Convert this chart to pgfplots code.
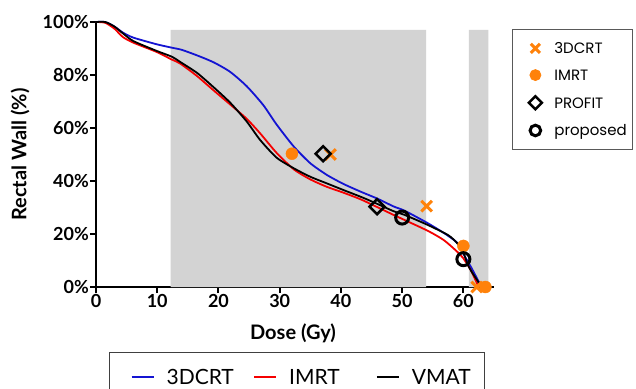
\documentclass[border=0pt]{standalone}
\usepackage{fontspec}
\setmainfont{Lato}
\newfontfamily\poppins{Poppins}
\usepackage{pgfplots}
\pgfplotsset{compat=1.18}
\definecolor{orng}{RGB}{255,130,10}
\definecolor{bl}{RGB}{20,20,210}
\definecolor{rd}{RGB}{245,0,0}
\definecolor{shade}{RGB}{211,211,211}
\begin{document}
\begin{tikzpicture}
\begin{axis}[
  at={(96bp,102bp)}, anchor=south west,
  scale only axis, width=398bp, height=265bp,
  xmin=0, xmax=65, ymin=0, ymax=100,
  axis x line*=bottom, axis y line*=left,
  axis line style={line width=2.2bp, black},
  xtick={0,10,20,30,40,50,60}, ytick={0,20,40,60,80,100},
  xticklabels={0,10,20,30,40,50,60},
  yticklabels={0\%,20\%,40\%,60\%,80\%,100\%},
  tick align=outside, major tick length=6bp,
  tick style={line width=2bp, black},
  ticklabel style={font=\fontsize{18bp}{20bp}\selectfont\bfseries, inner sep=1bp},
  xlabel={Dose (Gy)}, ylabel={Rectal Wall (\%)},
  label style={font=\fontsize{20bp}{22bp}\selectfont\bfseries},
  xlabel style={at={(axis description cs:0.495,-0.174)}, anchor=center},
  ylabel style={at={(axis description cs:-0.191,0.5)}, anchor=center},
  clip=false,
  legend columns=3, legend cell align=left,
  legend style={at={(0.0334,-0.244)}, anchor=north west, draw=black!75, line width=0.8bp,
    inner xsep=11bp, inner ysep=17.5bp, font=\fontsize{21bp}{23bp}\selectfont,
    nodes={inner sep=0pt, text height=15bp, text depth=0bp, text width=62bp, align=left},
    /tikz/every odd column/.style={column sep=12bp},
    /tikz/every even column/.style={column sep=14.7bp}},
  legend image code/.code={\path[draw=none, fill=none] (-11bp,-7bp) rectangle (22bp,7bp); \draw[#1, line width=1.8bp] (0bp,0bp) -- (22bp,0bp);},
]
\addplot[fill=shade, draw=none, forget plot] coordinates {(12.2,0.45) (12.2,97) (53.9,97) (53.9,0.45)} \closedcycle;
\addplot[fill=shade, draw=none, forget plot] coordinates {(60.9,0.45) (60.9,97) (64.1,97) (64.1,0.45)} \closedcycle;

\addplot[bl, line width=1.8bp, smooth, tension=0.4] coordinates {
(0,100) (1.5,100) (3,98.3) (4.4,96) (6.1,94.1) (9.9,91.6) (12.4,90.3) (14,89.5) (16.5,87.4)
(19.2,84.8) (21.9,81.2) (24.6,75.8) (27.3,68.7) (29.5,61.3) (32.3,53) (35,46.7) (37.7,42.3)
(40.4,38.9) (43.2,36) (46,33.3) (48.6,30.4) (50.4,28.8) (54.1,24.2) (56.8,20.4) (58.6,17.5)
(59.4,15.5) (60.2,11.7) (61.3,7.3) (62.6,1.6) (63,0)};
\addlegendentry{3DCRT}
\addplot[rd, line width=1.8bp, smooth, tension=0.4] coordinates {
(0,100) (1.5,99.7) (3,97.5) (4.4,94.3) (6.1,92.2) (9.9,88.7) (12.4,85.8) (13.7,84.4) (16.5,79.6)
(19.2,74.2) (21.9,68.9) (24.6,63.5) (26.8,58) (29.5,50.6) (32.3,44.4) (35,40.6) (37.7,37.8)
(40.4,35.6) (43.5,32.8) (48.6,27.2) (54.1,21.3) (56.8,17.7) (59,13.3) (60,10.8) (61.2,6.4)
(62,2.5) (62.5,0)};
\addlegendentry{IMRT}
\addplot[black, line width=1.8bp, smooth, tension=0.4] coordinates {
(0,100) (1.5,100) (3,98.3) (4.4,95.7) (6.1,92.8) (9.9,89.1) (12.4,86.9) (13.7,85) (16.5,80.8)
(19.2,75.4) (21.9,69.6) (24.6,62.5) (26.8,55.5) (29.5,48.8) (32.3,44.8) (35,41.6) (37.7,39.1)
(40.4,36.6) (43.5,33.8) (46,31.3) (48.6,28.6) (50.4,27.2) (54.1,23.5) (57.5,19.6) (59,16.5)
(60,13) (60.7,8.5) (61.5,5.2) (62.3,2.4) (62.9,0)};
\addlegendentry{VMAT}

\addplot[only marks, mark=x, mark size=7.5bp, mark options={draw=orng, line width=3bp}, forget plot]
  coordinates {(38.3,50) (54,30.5) (62.2,0)};
\addplot[only marks, mark=*, mark size=6bp, mark options={fill=orng, draw=orng}, forget plot]
  coordinates {(32,50.3) (60,15.5) (63.6,0)};
\addplot[only marks, mark=square, mark size=5.3bp, mark options={rotate=45, draw=black, line width=2.5bp}, forget plot]
  coordinates {(37.1,50.3) (45.9,30.3)};
\addplot[only marks, mark=o, mark size=6.5bp, mark options={draw=black, line width=3bp}, forget plot]
  coordinates {(50,26.2) (60,10.5)};
\end{axis}

\begin{axis}[
  at={(96bp,102bp)}, anchor=south west,
  scale only axis, width=398bp, height=265bp,
  hide axis, xmin=0, xmax=1, ymin=0, ymax=1,
  legend cell align=left,
  legend style={at={(1.0452,0.9725)}, anchor=north west, draw=black!65, line width=0.8bp,
    inner xsep=6bp, inner ysep=13.2bp, font=\poppins\fontsize{15bp}{17bp}\selectfont,
    row sep=15.7bp, nodes={inner sep=0pt, text height=11bp, text depth=0bp},
    /tikz/every odd column/.style={column sep=10bp}},
  legend image code/.code={\path[draw=none, fill=none] (-17bp,-5.5bp) rectangle (9bp,5.5bp); \draw[#1] plot coordinates {(0bp,0bp)};},
]
\addlegendimage{only marks, mark=x, mark size=6.5bp, mark options={draw=orng, line width=3bp}}
\addlegendentry{3DCRT}
\addlegendimage{only marks, mark=*, mark size=5.5bp, mark options={fill=orng, draw=orng}}
\addlegendentry{IMRT}
\addlegendimage{only marks, mark=square, mark size=4.6bp, mark options={rotate=45, draw=black, line width=2.5bp}}
\addlegendentry{PROFIT}
\addlegendimage{only marks, mark=o, mark size=5.3bp, mark options={draw=black, line width=3bp}}
\addlegendentry{proposed}
\end{axis}
\pgfresetboundingbox
\path[use as bounding box] (0,0) rectangle (636bp,389bp);
\end{tikzpicture}
\end{document}
